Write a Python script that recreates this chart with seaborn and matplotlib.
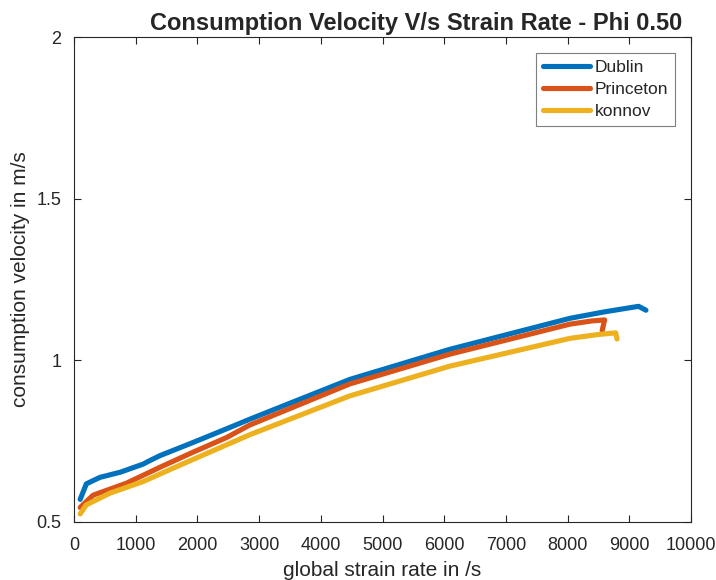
import pandas as pd
import seaborn as sns
import matplotlib.pyplot as plt

# values (strain rate in 1/s, velocity in m/s)
dublin_x = [100, 200, 420, 750, 1120, 1230, 1390, 1930, 2470, 2850,
            4470, 6090, 8040, 8600, 9150, 9270]
dublin_y = [0.570, 0.618, 0.638, 0.654, 0.679, 0.690, 0.705, 0.746, 0.788,
            0.818, 0.941, 1.034, 1.130, 1.150, 1.167, 1.155]

princeton_x = [100, 310, 850, 1390, 1930, 2470, 2850, 4470, 6090, 8040,
               8400, 8600, 8560]
princeton_y = [0.545, 0.583, 0.620, 0.669, 0.716, 0.761, 0.800, 0.927, 1.019,
               1.112, 1.122, 1.125, 1.092]

konnov_x = [100, 200, 580, 1120, 1660, 2200, 2850, 4470, 6090, 8040,
            8500, 8780, 8800]
konnov_y = [0.525, 0.553, 0.589, 0.625, 0.671, 0.716, 0.770, 0.890, 0.982,
            1.068, 1.080, 1.085, 1.066]

names = ["Dublin", "Princeton", "konnov"]
colors = ["#0072BD", "#D95319", "#EDB120"]

df = pd.concat([
    pd.DataFrame({"rate": dublin_x, "vel": dublin_y, "mech": "Dublin"}),
    pd.DataFrame({"rate": princeton_x, "vel": princeton_y, "mech": "Princeton"}),
    pd.DataFrame({"rate": konnov_x, "vel": konnov_y, "mech": "konnov"}),
], ignore_index=True)

sns.set_style("white")
plt.rcParams["font.family"] = ["Liberation Sans", "DejaVu Sans"]

fig = plt.figure(figsize=(7.16, 5.8), dpi=100)
ax = fig.add_axes([74 / 716, 1 - 522 / 580, 617 / 716, 485 / 580])

sns.lineplot(data=df, x="rate", y="vel", hue="mech", hue_order=names,
             palette=colors, sort=False, estimator=None, linewidth=3.7,
             ax=ax)

ax.set_xlim(0, 10000)
ax.set_ylim(0.5, 2)
ax.set_xticks(range(0, 10001, 1000))
ax.set_yticks([0.5, 1, 1.5, 2])
ax.set_yticklabels(["0.5", "1", "1.5", "2"])

grey = "#262626"
for s in ax.spines.values():
    s.set_color(grey)
    s.set_linewidth(0.8)
ax.tick_params(direction="in", length=5, width=0.8, color=grey,
               labelcolor=grey, labelsize=13, top=True, right=True,
               bottom=True, left=True)
ax.tick_params(axis="x", pad=11)
ax.tick_params(axis="y", pad=9)

ax.set_xlabel("global strain rate in /s", fontsize=15, color=grey, labelpad=5)
ax.set_ylabel("consumption velocity in m/s", fontsize=15, color=grey,
              labelpad=5)
ax.set_title("Consumption Velocity V/s Strain Rate - Phi 0.50",
             fontsize=17, fontweight="bold", x=0.554, pad=5)

leg = ax.legend(loc="upper right", fontsize=12.5, frameon=True, fancybox=False,
                framealpha=1, edgecolor="#7f7f7f", handlelength=2.7,
                handletextpad=0.3, labelspacing=0.4, borderpad=0.4,
                borderaxespad=0.9)
leg.get_frame().set_linewidth(0.8)
for t in leg.get_texts():
    t.set_color(grey)

fig.savefig("out.png", dpi=100)
